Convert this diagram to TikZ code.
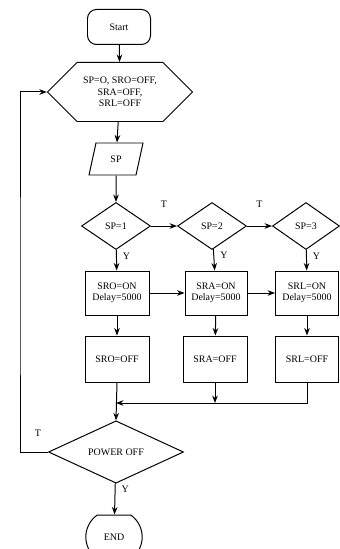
\documentclass[tikz,border=0pt]{standalone}
\usepackage{fontspec}
\setmainfont{Liberation Serif}
\usetikzlibrary{arrows.meta, positioning, shapes.geometric, shapes.symbols, shapes.misc}

\begin{document}
\begin{tikzpicture}[x=1bp, y=-1bp, >=Stealth, line width=1pt,
  every node/.style={font=\fontsize{10}{11.5}\selectfont},
  term/.style={draw, rounded corners=9bp, minimum width=63bp, minimum height=35bp},
  hexbox/.style={draw, signal, signal to=west and east, minimum width=145bp, minimum height=59bp, align=center, inner sep=1bp},
  iobox/.style={draw, trapezium, trapezium left angle=77, trapezium right angle=103, trapezium stretches=true, minimum width=54bp, minimum height=32bp},
  decide/.style={draw, diamond, minimum width=69bp, minimum height=47bp, inner sep=0pt},
  procbox/.style={draw, rectangle, minimum width=64bp, minimum height=44bp, align=center, inner sep=1bp},
  flag/.style={inner sep=1bp}]
  \useasboundingbox (0,0) rectangle (339,549);

  \node[term] (start) at (119,27) {Start};
  \node[hexbox] (init) at (120,92) {SP=O, SRO=OFF,\\SRA=OFF,\\SRL=OFF};
  \node[iobox] (sp) at (116,159) {SP};

  \node[decide] (d1) at (116,226) {SP=1};
  \node[decide] (d2) at (212,226) {SP=2};
  \node[decide, minimum width=67bp] (d3) at (306,226) {SP=3};

  \node[procbox] (on1) at (117,293) {SRO=ON\\Delay=5000};
  \node[procbox, minimum width=62bp] (on2) at (216,293) {SRA=ON\\Delay=5000};
  \node[procbox, minimum width=63bp] (on3) at (307,293) {SRL=ON\\Delay=5000};

  \node[procbox, minimum height=46bp] (off1) at (117,359) {SRO=OFF};
  \node[procbox, minimum height=46bp] (off2) at (215,359) {SRA=OFF};
  \node[procbox, minimum width=63bp, minimum height=46bp] (off3) at (307,359) {SRL=OFF};

  \node[decide, minimum width=135bp, minimum height=61bp] (pwr) at (116,452) {POWER OFF};
  \node[draw, rounded rectangle, rounded rectangle arc length=110, minimum width=63bp, minimum height=44bp] (end) at (114,537) {END};

  \coordinate (mrg) at (116,403);
  \coordinate (back) at (20,300);

  \draw[->] (start) -- (init);
  \draw[->] (init) -- (sp);
  \draw[->] (sp) -- (d1);

  \draw[->] (d1) -- node[pos=0.3, right=5bp, flag] (y1) {Y} (on1);
  \draw[->] (d2) -- node[pos=0.3, right=5bp, flag] (y2) {Y} (on2);
  \draw[->] (d3) -- node[pos=0.3, right=5bp, flag] (y3) {Y} (on3);
  \draw[->] (d1) -- node[above=17bp, flag] (t1) {T} (d2);
  \draw[->] (d2) -- node[above=17bp, flag] (t2) {T} (d3);

  \draw[->] (on1) -- (on2);
  \draw[->] (on2) -- (on3);
  \draw[->] (on1) -- (off1);
  \draw[->] (on2) -- (off2);
  \draw[->] (on3) -- (off3);

  \draw[->] (off3.south) |- (mrg);
  \draw[->] (off2.south) -- (off2.south |- mrg);
  \draw[->] (off1.south) -- (pwr.north);

  \draw[->] (pwr.west) -| (back) |- (init.west);
  \node[flag] (t3) at (38,433) {T};
  \draw[->] (pwr) -- node[pos=0.2, right=5bp, flag] (y4) {Y} (end);
\end{tikzpicture}
\end{document}
